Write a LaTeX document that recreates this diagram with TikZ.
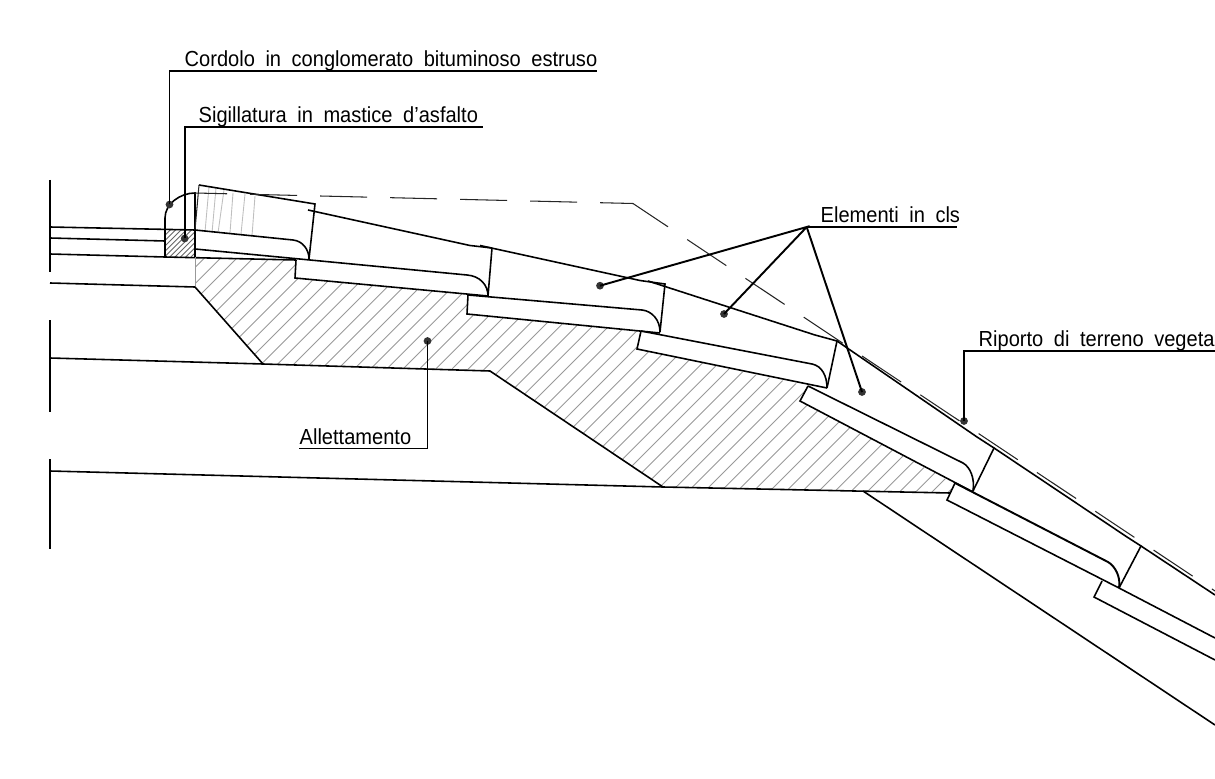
\documentclass[tikz,border=0pt]{standalone}
\usepackage{fontspec}
\setmainfont[WordSpace=1.9,FakeStretch=0.92]{Liberation Sans}
\usetikzlibrary{calc}

\tikzset{
  edge/.style={line width=0.45pt,black},
  thinline/.style={line width=0.3pt,black!85},
  hatchline/.style={line width=0.25pt,black!40},
  leader/.style={line width=0.55pt,black},
  dot/.style={circle,fill=black!80,inner sep=0pt,minimum size=2.2pt},
  label/.style={anchor=south west,inner xsep=0pt,inner ysep=1.05pt,text depth=0pt,font=\fontsize{6.2}{7}\selectfont}
}

\begin{document}
\begin{tikzpicture}[x=0.01cm,y=-0.01cm]

\useasboundingbox (0,0) rectangle (1215,779);
\clip (0,0) rectangle (1215,779);

% Hatch of the bedding
\begin{scope}
  \clip (195,257) -- (296,260) -- (295,278) -- (467,294.5) -- (467,314) -- (641,331) -- (637,349)
    -- (808,386) -- (800,401) -- (953,483) -- (950,493) -- (663,487) -- (490,371) -- (263,364) -- (195,287) -- cycle;
  \foreach \k in {-13,...,48}
    \draw[hatchline] ({658+16.3*\k-250},250) -- ({658+16.3*\k-500},500);
\end{scope}

% Hatch of the sealing
\begin{scope}
  \clip (165,230) rectangle (195,257);
  \foreach \k in {0,...,11}
    \draw[hatchline,black!60] ({395+5.3*\k-225},225) -- ({395+5.3*\k-260},260);
\end{scope}

% Light strokes in the first element
\foreach \xa/\ya/\xb/\yb in {209/187/205/232,216/188/212/233,224/190/218/233,233/193/230/233,245/194/241/234,255/196/252/236}
  \draw[hatchline,black!25] (\xa,\ya) -- (\xb,\yb);

% Section marks on the left
\draw[edge] (50,180) -- (50,272);
\draw[edge] (50,320) -- (50,412);
\draw[edge] (50,459) -- (50,549);

% Road layers
\draw[edge] (50,227) -- (195,230);
\draw[edge] (50,238) -- (165,241);
\draw[edge] (50,254) -- (165,257) -- (296,260);
\draw[edge] (50,283) -- (195,287);
\draw[edge] (50,358) -- (263,364) -- (490,371) -- (663,487);
\draw[edge] (50,471) -- (663,487) -- (950,493);
\draw[hatchline] (195,257) -- (195,287);
\draw[edge] (195,287) -- (263,364);
\draw[edge] (863,491) -- (1215,725);

% Curb
\draw[edge] (165,257) -- (165,218) .. controls (165,204) and (180,193) .. (195,193) -- (195,257);

% Elements in the slope
\draw[edge] (199,185) -- (315,204) -- (309,259);
\draw[thinline] (199,185) -- (195,230);
\draw[edge] (195,230) -- (293,240) .. controls (303,241) and (309,250) .. (309,259);
\draw[edge] (195,249) -- (467,275) .. controls (480,276) and (488,285) .. (488,296) -- (492,248);
\draw[edge] (296,260) -- (295,278) -- (488,296);
\draw[edge] (308,210) -- (470,245.5) -- (492,248);
\draw[edge] (480,245.5) -- (640,280.5) -- (665,284) -- (660,332);
\draw[edge] (468,295) -- (467,314) -- (660,333);
\draw[edge] (468,295) -- (642,310) .. controls (652,311) and (660,320) .. (660,332);
\draw[edge] (648,281) -- (815,335) -- (837,341) -- (827,388);
\draw[edge] (641,331) -- (637,349) -- (827,388);
\draw[edge] (641,331) -- (812,364) .. controls (822,366) and (827,376) .. (827,388);
\draw[edge] (837,341) -- (977,437) -- (994,448) -- (973,491);
\draw[edge] (808,386) -- (800,401) -- (973,492);
\draw[edge] (808,386) -- (963,463) .. controls (970,467) and (975,478) .. (973,491);
\draw[edge] (994,448) -- (1127,537) -- (1141,546) -- (1119,588);
\draw[edge] (955,483) -- (947,500) -- (1119,588);
\draw[edge,line width=0.55pt] (955,483) -- (1108,562) .. controls (1115,566) and (1121,577) .. (1119,588);
\draw[edge] (1141,546) -- (1215,595);
\draw[edge] (1102,581) -- (1094,597) -- (1215,660);
\draw[edge] (1119,588) -- (1215,638);

% Dashed profile
\draw[thinline,dash pattern=on 0.47cm off 0.23cm,dash phase=0.15cm] (195,193) -- (633,203.5);
\draw[thinline,dash pattern=on 0.47cm off 0.23cm,dash phase=0.05cm] (633,203.5) -- (1215,591);

% Labels
\node[label] (lblCordolo) at (184,71) {Cordolo in conglomerato bituminoso estruso};
\node[label] (lblSigillatura) at (198,127) {Sigillatura in mastice d'asfalto};
\node[label] (lblElementi) at (820,227) {Elementi in cls};
\node[label] (lblRiporto) at (978,351) {Riporto di terreno vegeta};
\node[label] (lblAllettamento) at (299,448.5) {Allettamento};

% Leader ends
\node[dot] (dotCordolo) at (169.5,204.5) {};
\node[dot] (dotSigillatura) at (184.7,238.5) {};
\node[dot] (dotElementiA) at (600,285.7) {};
\node[dot] (dotElementiB) at (724,314) {};
\node[dot] (dotElementiC) at (862,392) {};
\node[dot] (dotRiporto) at (964,421) {};
\node[dot] (dotAllettamento) at (427.5,341) {};

\coordinate (endCordolo) at (597,71);
\coordinate (endSigillatura) at (483,127);
\coordinate (endElementi) at (957,227);
\coordinate (endRiporto) at (1215,351);
\coordinate (apexElementi) at (806.7,227);

% Leaders
\draw[leader] (dotCordolo.center) |- (endCordolo);
\draw[leader] (dotSigillatura.center) |- (endSigillatura);
\draw[leader] (dotRiporto.center) |- (endRiporto);
\draw[leader] (dotAllettamento.center) |- (lblAllettamento.south west);
\draw[leader] (apexElementi) -- (endElementi);
\draw[leader] (dotElementiA.center) -- (apexElementi) -- (dotElementiB.center);
\draw[leader] (apexElementi) -- (dotElementiC.center);

\end{tikzpicture}
\end{document}
